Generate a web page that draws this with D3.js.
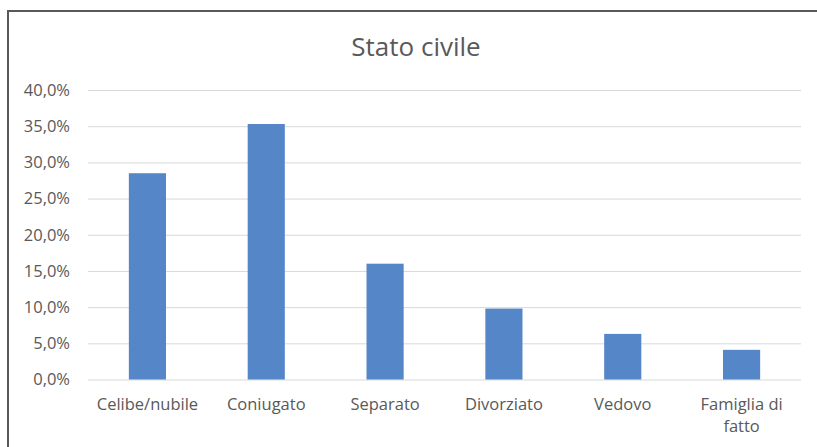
<!DOCTYPE html>
<html>
<head>
<meta charset="utf-8">
<script src="https://cdn.jsdelivr.net/npm/d3@7"></script>
<style>
  html, body { margin: 0; padding: 0; background: #fff; }
  svg { display: block; }
  text { font-family: "Open Sans", "Noto Sans", sans-serif; fill: #595959; }
</style>
</head>
<body>
<svg id="chart" width="817" height="447"></svg>
<script>
// Stato civile — share of respondents by marital status
const categories = ["Celibe/nubile", "Coniugato", "Separato", "Divorziato", "Vedovo", "Famiglia di fatto"];
const values = [28.5, 35.3, 16.0, 9.8, 6.3, 4.1];
const yTicks = [0, 5, 10, 15, 20, 25, 30, 35, 40];
const title = "Stato civile";

const svg = d3.select("#chart");
const width = 817, height = 447;
const margin = { left: 88, right: 16, top: 90, bottom: 68 };

// outer frame (top and left edges visible)
svg.append("line").attr("x1", 8).attr("x2", width).attr("y1", 11).attr("y2", 11)
  .attr("stroke", "#595959").attr("stroke-width", 2);
svg.append("line").attr("x1", 8).attr("x2", 8).attr("y1", 10).attr("y2", height)
  .attr("stroke", "#595959").attr("stroke-width", 2);

const x = d3.scaleBand()
  .domain(categories)
  .range([margin.left, width - margin.right])
  .paddingInner(0.6875)
  .paddingOuter(0.34375);

const y = d3.scaleLinear()
  .domain([0, 40])
  .range([height - margin.bottom + 0.5, margin.top]);

// gridlines
const yAxis = d3.axisLeft(y)
  .tickValues(yTicks)
  .tickSize(-(width - margin.left - margin.right))
  .tickPadding(18)
  .tickFormat(d => d3.format(".1f")(d).replace(".", ",") + "%");

const gy = svg.append("g")
  .attr("transform", `translate(${margin.left},0)`)
  .call(yAxis);
gy.select(".domain").remove();
gy.selectAll(".tick line").attr("stroke", "#D9D9D9").attr("stroke-width", 1);
gy.selectAll(".tick text")
  .style("font-size", "16.5px")
  .attr("fill", "#595959");

// bars
svg.append("g").selectAll("rect")
  .data(values)
  .join("rect")
  .attr("x", (d, i) => x(categories[i]))
  .attr("width", x.bandwidth())
  .attr("y", d => y(d))
  .attr("height", d => y(0) - y(d))
  .attr("fill", "#5586C8");

// category labels (wrapped on two lines when too long)
const xAxis = d3.axisBottom(x).tickSize(0).tickPadding(19);
const gx = svg.append("g")
  .attr("transform", `translate(0,${y(0)})`)
  .call(xAxis);
gx.select(".domain").remove();
gx.selectAll(".tick text")
  .style("font-size", "16.5px")
  .attr("fill", "#595959")
  .each(function(d) {
    const t = d3.select(this);
    if (d === "Famiglia di fatto") {
      t.text(null);
      t.append("tspan").attr("x", 0).attr("dy", "0.71em").text("Famiglia di");
      t.append("tspan").attr("x", 0).attr("dy", "1.3em").text("fatto");
      t.attr("dy", null);
    }
  });

// title
svg.append("text")
  .attr("x", 416)
  .attr("y", 56)
  .attr("text-anchor", "middle")
  .style("font-size", "26px")
  .attr("fill", "#595959")
  .text(title);
</script>
</body>
</html>
